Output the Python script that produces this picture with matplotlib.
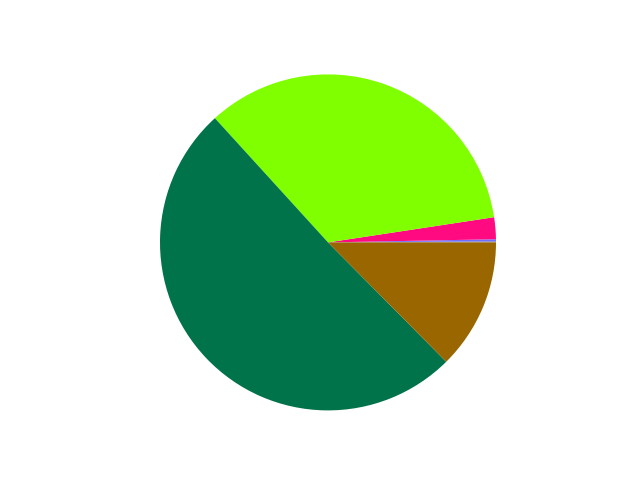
import matplotlib
matplotlib.use('Agg')
import matplotlib.pyplot as plt

# slice shares in percent, counter-clockwise from 3 o'clock
labels = ['Grey', 'Blue', 'Pink', 'Lime', 'Green', 'Brown']
sizes = [0.1, 0.2, 2.1, 34.36, 50.67, 12.58]
colors = ['#808080', '#6e6eff', '#ff0a80', '#80ff00', '#00734a', '#996600']

fig, ax = plt.subplots(figsize=(6.4, 4.8), dpi=100)
ax.pie(sizes, colors=colors, startangle=0)
ax.axis('equal')
fig.savefig('out.png')
